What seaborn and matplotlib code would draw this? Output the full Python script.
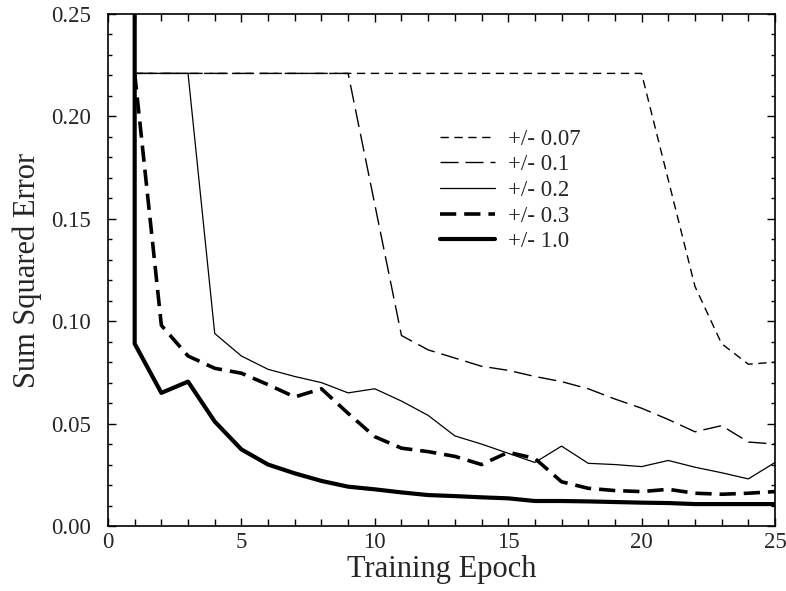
import numpy as np
import pandas as pd
import seaborn as sns
import matplotlib.pyplot as plt
from matplotlib.ticker import MultipleLocator, FormatStrFormatter

# epochs (the +/- 1.0 run starts off the top of the chart at epoch 1)
epochs = list(range(1, 26))
epochs_10 = [1] + list(range(1, 26))

sse_007 = [0.221] * 20 + [0.169, 0.117, 0.089, 0.079, 0.080]
sse_01 = [0.221] * 9 + [0.157, 0.093, 0.086, 0.082, 0.078, 0.076, 0.073,
                        0.0705, 0.067, 0.062, 0.0575, 0.052, 0.046, 0.049,
                        0.041, 0.040]
sse_02 = [0.221, 0.221, 0.221, 0.094, 0.083, 0.0765, 0.073, 0.070, 0.065,
          0.067, 0.061, 0.054, 0.044, 0.040, 0.0355, 0.031, 0.039, 0.0306,
          0.030, 0.029, 0.032, 0.0287, 0.026, 0.023, 0.031]
sse_03 = [0.221, 0.098, 0.083, 0.077, 0.0746, 0.069, 0.063, 0.067, 0.055,
          0.0436, 0.038, 0.0363, 0.034, 0.030, 0.036, 0.033, 0.0216, 0.0184,
          0.0173, 0.0168, 0.0179, 0.016, 0.0155, 0.016, 0.0168]
sse_10 = [0.40, 0.089, 0.065, 0.0705, 0.051, 0.0374, 0.030, 0.0257, 0.022,
          0.0192, 0.0179, 0.0164, 0.0151, 0.0146, 0.014, 0.0135, 0.0122,
          0.0122, 0.012, 0.0117, 0.0114, 0.0112, 0.0107, 0.0107, 0.0107,
          0.0107]

labels = ['+/- 0.07', '+/- 0.1', '+/- 0.2', '+/- 0.3', '+/- 1.0']

sns.set_style('ticks')
plt.rcParams['font.family'] = ['Liberation Serif', 'DejaVu Serif']

fig = plt.figure(figsize=(7.86, 5.91), dpi=100)
ax = fig.add_axes([0.1374, 0.11, 0.8486, 0.8663])

runs = [
    (epochs, sse_007, labels[0], 1.0, (0, (6, 4))),
    (epochs, sse_01, labels[1], 1.0, (0, (13, 5))),
    (epochs, sse_02, labels[2], 0.9, '-'),
    (epochs, sse_03, labels[3], 2.6, (0, (4.5, 2.2))),
    (epochs_10, sse_10, labels[4], 3.0, '-'),
]
for x, y, lab, lw, ls in runs:
    sns.lineplot(x=x, y=y, ax=ax, color='black', lw=lw, linestyle=ls,
                 label=lab, estimator=None, sort=False)

ax.set_xlim(0, 25)
ax.set_ylim(0, 0.25)
ax.xaxis.set_major_locator(MultipleLocator(5))
ax.xaxis.set_minor_locator(MultipleLocator(1))
ax.yaxis.set_major_locator(MultipleLocator(0.05))
ax.yaxis.set_minor_locator(MultipleLocator(0.01))
ax.yaxis.set_major_formatter(FormatStrFormatter('%.2f'))

ax.tick_params(which='both', direction='in', top=True, right=True,
               labelsize=16.5, width=1.0, color='black')
ax.tick_params(axis='x', which='both', pad=4)
ax.tick_params(axis='y', which='both', pad=12)
ax.tick_params(which='major', length=6)
ax.tick_params(axis='x', which='minor', length=5)
ax.tick_params(axis='y', which='minor', length=3)
for s in ax.spines.values():
    s.set_linewidth(1.2)
    s.set_color('black')

ax.set_xlabel('Training Epoch', fontsize=22, labelpad=2)
ax.set_ylabel('Sum Squared Error', fontsize=22, labelpad=7)

ax.legend(loc='upper left', bbox_to_anchor=(0.498, 0.776), frameon=False,
          fontsize=16.5, handlelength=2.4, handletextpad=0.57, labelspacing=0.2,
          borderpad=0, borderaxespad=0)

plt.savefig('out.png', dpi=100)
